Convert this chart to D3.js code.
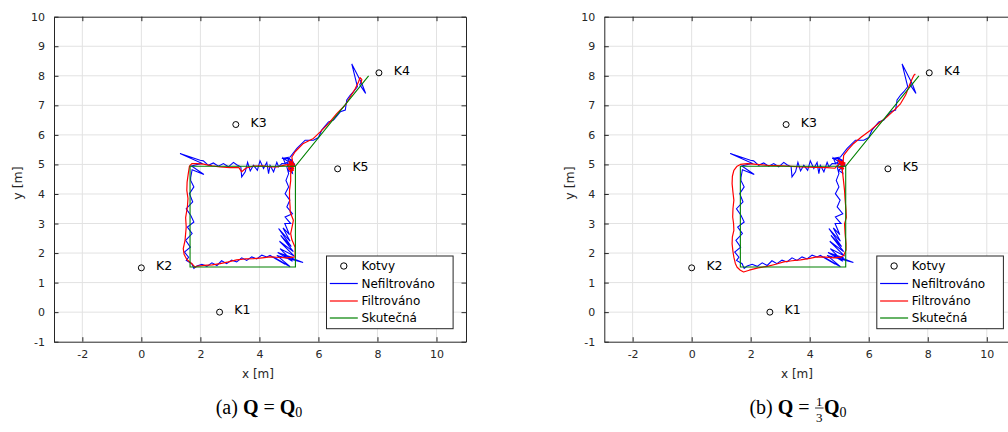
<!DOCTYPE html>
<html><head><meta charset="utf-8">
<script src="https://cdn.jsdelivr.net/npm/d3@7"></script>
<style>body{margin:0;background:#fff;overflow:hidden}</style>
</head><body><svg id="c" width="1008" height="432"></svg>
<script>
// ---------------- data ----------------
const xTicks = [-2, 0, 2, 4, 6, 8, 10];
const yTicks = [-1, 0, 1, 2, 3, 4, 5, 6, 7, 8, 9, 10];
const xGrid = [-2, 0, 2, 4, 6, 8, 10];
const yGrid = [0, 1, 2, 3, 4, 5, 6, 7, 8, 9];

const anchorNames = ["K1", "K2", "K3", "K4", "K5"];
const anchorX = [2.65, 0.0, 3.2, 8.05, 6.65];
const anchorY = [0.0, 1.5, 6.35, 8.1, 4.85];

// ground truth path (Skutečná)
const truthX = [5.22, 1.65, 1.65, 5.22, 5.22, 7.7];
const truthY = [4.94, 4.94, 1.53, 1.53, 4.94, 8.0];

// unfiltered measurements (Nefiltrováno) - same in both panels
const rawXY = [
  [5.15,4.92],[4.95,5.20],[5.10,5.15],[5.20,4.98],[4.98,4.80],[5.12,4.70],[5.05,5.05],[4.80,5.22],[4.88,5.02],
  [4.76,5.03],[4.65,4.92],[4.59,5.07],[4.48,4.75],[4.36,4.97],[4.31,4.69],[4.25,5.07],[4.14,4.86],[4.02,5.12],
  [3.93,4.80],[3.80,4.97],[3.69,4.78],[3.60,5.07],[3.52,4.75],[3.40,4.58],[3.37,4.92],[3.23,4.99],[3.12,5.07],
  [2.95,4.92],[2.78,5.03],[2.61,4.94],[2.44,5.05],[2.27,4.97],[2.10,5.12],[1.99,5.14],
  [1.31,5.37],[2.05,5.04],[1.70,4.95],[2.12,4.66],[1.72,4.82],[1.67,4.55],
  [1.67,4.46],[1.78,4.24],[1.63,4.01],[1.74,3.73],[1.52,3.50],[1.67,3.28],[1.78,3.05],[1.56,2.88],[1.72,2.66],
  [1.50,2.43],[1.66,2.20],[1.46,2.03],[1.60,1.86],[1.52,1.75],[1.71,1.64],[1.78,1.48],[1.88,1.56],
  [2.05,1.62],[2.22,1.55],[2.39,1.67],[2.56,1.58],[2.72,1.74],[2.89,1.64],[3.06,1.76],[3.23,1.70],[3.40,1.84],
  [3.57,1.75],[3.74,1.87],[3.91,1.80],[4.08,1.93],[4.25,1.87],
  [4.36,1.92],[4.87,1.62],[4.48,1.87],[5.04,1.54],[4.59,1.92],[5.48,1.68],[4.82,1.93],[5.15,1.84],
  [4.62,2.02],[5.12,1.72],[4.70,2.15],[5.18,1.90],[4.68,2.40],[5.15,2.05],[4.72,2.60],[5.08,2.22],[4.65,2.83],
  [5.04,2.40],[4.80,2.85],[5.02,2.62],[4.86,3.00],[5.06,3.00],[4.87,3.22],[5.12,3.33],[4.93,3.56],[5.03,3.79],
  [4.87,4.01],[4.99,4.24],[4.90,4.46],[4.99,4.69],[4.93,4.92],
  [5.10,5.14],[4.90,5.05],[5.18,4.95],[5.02,5.20],
  [4.76,5.20],[5.04,5.25],[5.27,5.54],[5.55,5.82],[5.83,5.82],[6.00,5.91],[6.11,6.16],[6.34,6.44],[6.51,6.50],
  [6.74,6.78],[6.91,6.84],[6.96,7.18],[7.08,7.35],[7.19,7.46],[7.32,7.63],
  [7.13,8.40],[7.47,7.74],[7.60,7.40],[7.40,7.70],[7.45,7.80]
];

// filtered, panel (a)
const filtA = [
  [5.10,4.90],[5.00,5.10],[5.18,5.02],[4.98,4.85],[5.15,4.80],[5.05,5.12],[5.20,4.95],[4.95,4.98],[5.08,4.72],
  [5.12,5.05],[5.02,4.92],[5.16,4.86],[5.06,5.02],
  [4.82,4.97],[4.60,4.92],[4.36,4.92],[4.10,4.95],[3.80,4.94],[3.55,4.88],[3.40,4.75],[3.30,4.90],[3.01,4.89],
  [2.67,4.92],[2.40,4.95],[2.10,5.01],[1.85,5.03],[1.71,5.03],[1.63,4.94],[1.59,4.69],[1.55,4.40],[1.54,4.12],
  [1.58,3.85],[1.56,3.56],[1.50,3.20],[1.52,2.88],[1.48,2.43],[1.42,2.15],[1.45,1.95],[1.54,1.78],[1.71,1.64],
  [1.82,1.52],[1.90,1.56],[2.10,1.58],[2.40,1.60],[2.67,1.64],[2.95,1.70],[3.23,1.77],[3.50,1.80],[3.80,1.81],
  [4.10,1.84],[4.36,1.87],[4.70,1.85],[4.93,1.84],[5.21,1.87],[5.21,2.20],[5.10,2.45],[5.06,2.66],[5.13,3.00],
  [5.15,3.11],[5.04,3.40],[5.04,3.56],[5.02,3.85],[5.02,4.12],[5.06,4.45],[5.06,4.69],[5.15,4.92],
  [5.10,5.25],[5.21,5.43],[5.49,5.71],[5.83,5.88],[6.06,6.10],[6.34,6.38],[6.62,6.72],[6.91,7.01],[7.08,7.29],
  [7.25,7.57],[7.36,7.80],[7.41,7.94],[7.47,7.88],[7.44,7.74]
];

// filtered, panel (b)
const filtB = [
  [5.10,4.95],[4.95,5.15],[5.20,5.05],[4.98,4.90],[5.15,4.85],[5.00,5.10],[5.18,4.98],[5.05,4.88],[5.12,5.12],
  [4.98,5.02],
  [4.85,4.87],[4.59,4.89],[4.20,4.90],[3.69,4.92],[3.10,4.95],[2.56,4.97],[2.20,5.00],[1.88,5.03],[1.65,5.00],
  [1.54,4.94],[1.43,4.80],[1.38,4.60],[1.37,4.35],[1.40,4.05],[1.43,3.79],[1.40,3.50],[1.39,3.22],[1.42,3.00],
  [1.43,2.77],[1.38,2.55],[1.37,2.32],[1.40,2.05],[1.43,1.86],[1.48,1.65],[1.54,1.52],[1.65,1.42],[1.76,1.36],
  [1.95,1.42],[2.25,1.50],[2.56,1.55],[2.85,1.62],[3.12,1.70],[3.40,1.74],[3.69,1.77],[4.00,1.82],[4.25,1.87],
  [4.55,1.86],[4.82,1.84],[5.05,1.86],[5.15,1.92],[5.23,2.10],[5.23,2.32],[5.20,2.65],[5.18,2.99],[5.24,3.20],
  [5.23,3.45],[5.20,3.80],[5.18,4.12],[5.15,4.40],[5.13,4.58],[5.10,4.86],[5.13,5.05],[5.15,5.31],[5.30,5.50],
  [5.49,5.71],[5.75,5.93],[6.06,6.16],[6.35,6.40],[6.62,6.61],[6.85,6.82],[7.08,7.06],[7.25,7.35],[7.36,7.63],
  [7.45,7.85],[7.53,8.02],[7.58,8.06]
];

const legendLabels = ["Kotvy", "Nefiltrováno", "Filtrováno", "Skutečná"];
const axisLabelX = "x [m]";
const axisLabelY = "y [m]";

// ---------------- drawing ----------------
const svg = d3.select("#c");
const FONT = "DejaVu Sans, sans-serif";
const colors = {raw: "#0000ff", filt: "#ff0000", truth: "#008000", axis: "#262626", grid: "#e2e2e2"};

const panels = [
  {left: 54, right: 466, top: 16.7, bottom: 341.7, xlab: 258, ylab: 18, filt: filtA, id: "a"},
  {left: 604.3, right: 1016.3, top: 16.7, bottom: 341.7, xlab: 797, ylab: 570, filt: filtB, id: "b"}
];

panels.forEach(p => {
  const x = d3.scaleLinear().domain([-2.96, 11]).range([p.left, p.right]);
  const y = d3.scaleLinear().domain([-1, 10]).range([p.bottom, p.top]);
  const g = svg.append("g");

  g.append("clipPath").attr("id", "clip" + p.id).append("rect")
    .attr("x", p.left).attr("y", p.top).attr("width", p.right - p.left).attr("height", p.bottom - p.top);

  g.append("rect").attr("x", p.left).attr("y", p.top).attr("width", p.right - p.left)
    .attr("height", p.bottom - p.top).attr("fill", "#fff");

  // grid
  g.selectAll(".gx").data(xGrid).enter().append("line")
    .attr("x1", d => x(d)).attr("x2", d => x(d)).attr("y1", p.top).attr("y2", p.bottom)
    .attr("stroke", colors.grid).attr("stroke-width", 1);
  g.selectAll(".gy").data(yGrid).enter().append("line")
    .attr("y1", d => y(d)).attr("y2", d => y(d)).attr("x1", p.left).attr("x2", p.right)
    .attr("stroke", colors.grid).attr("stroke-width", 1);

  // axes via d3 axis (ticks inside)
  const tl = 4.5;
  const fmt = d => String(d);
  const axB = d3.axisBottom(x).tickValues(xTicks).tickSizeInner(-tl).tickSizeOuter(0).tickPadding(9).tickFormat(fmt);
  const axT = d3.axisTop(x).tickValues(xTicks).tickSizeInner(-tl).tickSizeOuter(0).tickFormat("");
  const axL = d3.axisLeft(y).tickValues(yTicks).tickSizeInner(-tl).tickSizeOuter(0).tickPadding(9).tickFormat(fmt);
  const axR = d3.axisRight(y).tickValues(yTicks).tickSizeInner(-tl).tickSizeOuter(0).tickFormat("");
  [[axB, `translate(0,${p.bottom})`], [axT, `translate(0,${p.top})`], [axL, `translate(${p.left},0)`], [axR, `translate(${p.right},0)`]]
    .forEach(([ax, tr]) => {
      const a = g.append("g").attr("transform", tr).call(ax);
      a.selectAll("path").attr("stroke", colors.axis).attr("stroke-width", 1);
      a.selectAll("line").attr("stroke", colors.axis).attr("stroke-width", 1);
      a.selectAll("text").attr("fill", colors.axis).style("font-family", FONT).style("font-size", "11px");
    });

  // data
  const clip = g.append("g").attr("clip-path", `url(#clip${p.id})`);
  const line = d3.line().x(d => x(d[0])).y(d => y(d[1]));

  clip.selectAll(".anc").data(anchorX).enter().append("circle")
    .attr("cx", (d) => x(d)).attr("cy", (d, i) => y(anchorY[i])).attr("r", 3)
    .attr("fill", "none").attr("stroke", "#000").attr("stroke-width", 1);
  clip.selectAll(".ancl").data(anchorNames).enter().append("text")
    .attr("x", (d, i) => x(anchorX[i] + 0.5)).attr("y", (d, i) => y(anchorY[i]) + 2)
    .text(d => d).style("font-family", FONT).style("font-size", "12.5px").attr("fill", "#000");

  clip.append("path").datum(rawXY).attr("d", line).attr("fill", "none")
    .attr("stroke", colors.raw).attr("stroke-width", 1.1).attr("stroke-linejoin", "miter");
  clip.append("path").datum(p.filt).attr("d", line).attr("fill", "none")
    .attr("stroke", colors.filt).attr("stroke-width", 1.2).attr("stroke-linejoin", "round");
  const truth = truthX.map((v, i) => [v, truthY[i]]);
  clip.append("path").datum(truth).attr("d", line).attr("fill", "none")
    .attr("stroke", colors.truth).attr("stroke-width", 1.1);

  // axis labels
  g.append("text").attr("x", p.xlab).attr("y", 378).attr("text-anchor", "middle")
    .style("font-family", FONT).style("font-size", "12px").attr("fill", colors.axis).text(axisLabelX);
  g.append("text").attr("transform", `translate(${p.ylab + 4},${183}) rotate(-90)`).attr("text-anchor", "middle")
    .style("font-family", FONT).style("font-size", "12.5px").attr("fill", colors.axis).text(axisLabelY);

  // legend
  const lx = p.right - 139.5, ly = 256, lw = 126.6, lh = 72.7;
  const lg = g.append("g");
  lg.append("rect").attr("x", lx).attr("y", ly).attr("width", lw).attr("height", lh)
    .attr("fill", "#fff").attr("stroke", colors.axis).attr("stroke-width", 1);
  const rowY = [266, 283.5, 301, 318];
  const legColors = [null, colors.raw, colors.filt, colors.truth];
  legendLabels.forEach((t, i) => {
    if (i === 0) {
      lg.append("circle").attr("cx", lx + 17.3).attr("cy", rowY[i]).attr("r", 3.2)
        .attr("fill", "none").attr("stroke", "#000").attr("stroke-width", 1);
    } else {
      lg.append("line").attr("x1", lx + 3.3).attr("x2", lx + 31.3).attr("y1", rowY[i]).attr("y2", rowY[i])
        .attr("stroke", legColors[i]).attr("stroke-width", 1.2);
    }
    lg.append("text").attr("x", lx + 35).attr("y", rowY[i] + 4.3).text(t)
      .style("font-family", FONT).style("font-size", "12px").attr("fill", "#000");
  });
});

// captions
const SERIF = "Liberation Serif, DejaVu Serif, serif";
function caption(cx, label, frac) {
  const g = svg.append("g");
  const base = 414;
  const t1 = g.append("text").attr("y", base).style("font-family", SERIF).style("font-size", "20px")
    .attr("fill", "#000").attr("xml:space", "preserve").style("white-space", "pre");
  t1.append("tspan").text(label + "\u00a0");
  t1.append("tspan").text("Q").style("font-weight", "bold");
  t1.append("tspan").text("\u00a0=\u00a0");
  const w1 = t1.node().getComputedTextLength();
  let fw = 0;
  const fg = g.append("g");
  if (frac) {
    const n = fg.append("text").attr("y", base - 8.5).text(frac[0]).style("font-family", SERIF).style("font-size", "13px");
    const d = fg.append("text").attr("y", base + 7.5).text(frac[1]).style("font-family", SERIF).style("font-size", "13px");
    fw = Math.max(n.node().getComputedTextLength(), d.node().getComputedTextLength()) + 3;
    n.attr("text-anchor", "middle"); d.attr("text-anchor", "middle");
    fg.append("line").attr("y1", base - 6).attr("y2", base - 6).attr("stroke", "#000").attr("stroke-width", 0.8)
      .attr("x1", -fw / 2 + 0.5).attr("x2", fw / 2 - 0.5);
  }
  const t2 = g.append("text").attr("y", base).style("font-family", SERIF).style("font-size", "20px").attr("fill", "#000");
  t2.append("tspan").text("Q").style("font-weight", "bold");
  t2.append("tspan").text("0").attr("dy", 3).style("font-size", "14px");
  const w2 = t2.node().getComputedTextLength();
  const total = w1 + fw + w2;
  const x0 = cx - total / 2;
  t1.attr("x", x0);
  fg.attr("transform", `translate(${x0 + w1 + fw / 2},0)`);
  t2.attr("x", x0 + w1 + fw);
}
caption(259, "(a)", null);
caption(798, "(b)", ["1", "3"]);
</script>
</body></html>
